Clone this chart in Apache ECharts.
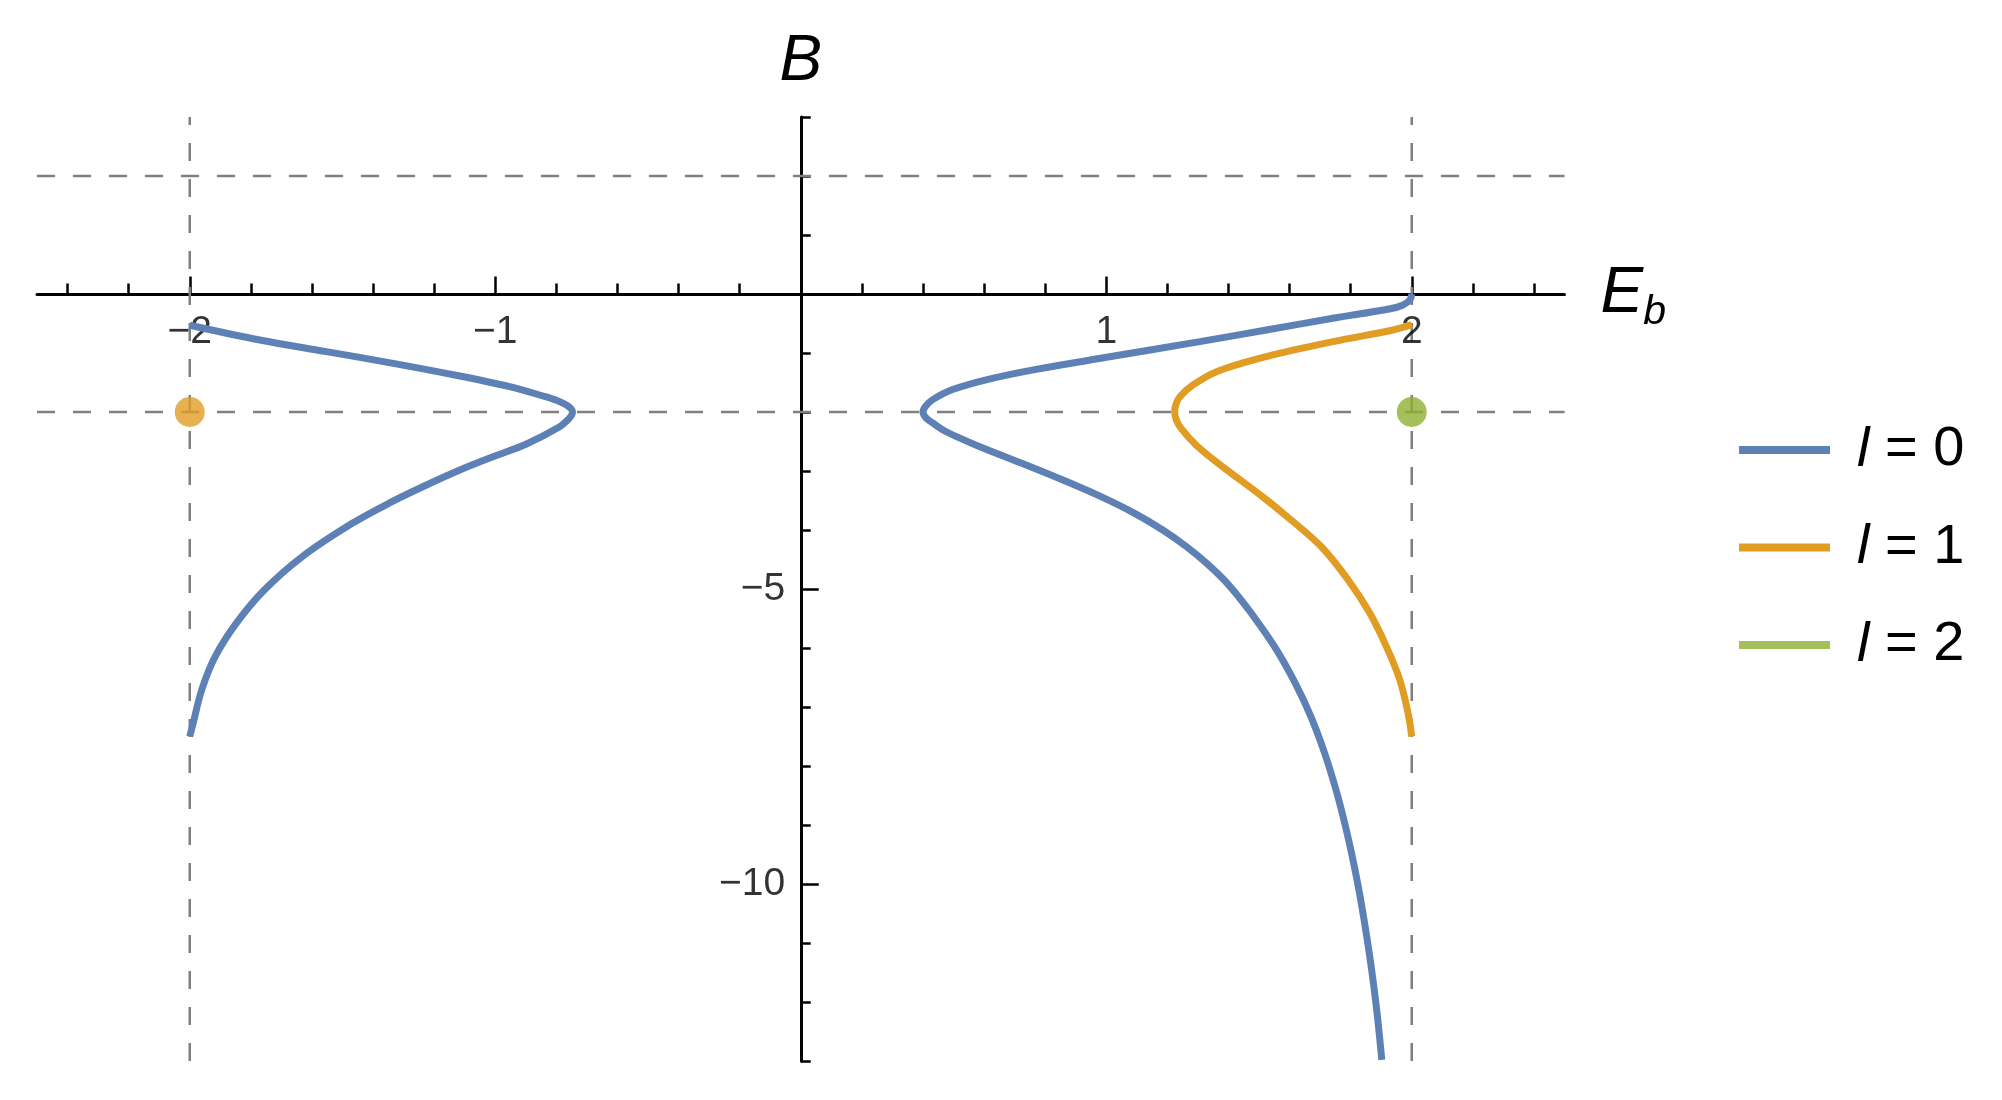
<!DOCTYPE html>
<html><head><meta charset="utf-8">
<script src="https://cdn.jsdelivr.net/npm/echarts@6/dist/echarts.min.js"></script>
<style>html,body{margin:0;padding:0;background:#fff}#c{width:2002px;height:1100px}</style>
</head><body><div id="c"></div><script>
// ---- data ----
const seriesNames = ['l = 0', 'l = 1', 'l = 2'];
const l0Left = [
  [-2.0, -0.53], [-1.771, -0.78], [-1.553, -0.977], [-1.334, -1.175], [-1.116, -1.39],
  [-0.953, -1.571], [-0.843, -1.729], [-0.80, -1.80], [-0.767, -1.881], [-0.751, -1.95],
  [-0.747, -2.0], [-0.751, -2.06], [-0.762, -2.13], [-0.789, -2.249], [-0.898, -2.542],
  [-1.007, -2.757], [-1.116, -2.983], [-1.225, -3.237], [-1.338, -3.52], [-1.468, -3.887],
  [-1.632, -4.452], [-1.756, -5.017], [-1.848, -5.582], [-1.917, -6.147], [-1.961, -6.712],
  [-1.989, -7.277], [-2.0, -7.5]
];
const l0Right = [
  [2.0, 0.0], [1.994, -0.1], [1.97, -0.19], [1.93, -0.25], [1.742, -0.412],
  [1.524, -0.61], [1.306, -0.808], [1.001, -1.073], [0.77, -1.277], [0.61, -1.45],
  [0.497, -1.62], [0.432, -1.79], [0.409, -1.9], [0.40, -2.0], [0.41, -2.1],
  [0.433, -2.19], [0.466, -2.305], [0.51, -2.418], [0.586, -2.588], [0.724, -2.87],
  [0.858, -3.153], [0.983, -3.435], [1.093, -3.718], [1.185, -4.0], [1.263, -4.283],
  [1.329, -4.565], [1.386, -4.847], [1.433, -5.13], [1.475, -5.412], [1.551, -5.977],
  [1.619, -6.599], [1.670, -7.164], [1.715, -7.785], [1.749, -8.35], [1.778, -8.915],
  [1.803, -9.48], [1.825, -10.045], [1.844, -10.61], [1.861, -11.175], [1.876, -11.74],
  [1.889, -12.305], [1.902, -12.98]
];
const l1Curve = [
  [2.0, -0.52], [1.939, -0.61], [1.742, -0.808], [1.524, -1.062], [1.361, -1.316],
  [1.284, -1.542], [1.241, -1.741], [1.228, -1.87], [1.224, -2.0], [1.229, -2.13],
  [1.245, -2.277], [1.294, -2.559], [1.366, -2.87], [1.439, -3.153], [1.51, -3.43],
  [1.579, -3.718], [1.704, -4.283], [1.792, -4.847], [1.863, -5.412], [1.917, -5.977],
  [1.961, -6.542], [1.988, -7.107], [2.0, -7.5]
];
const l1Point = [[-2, -2]];
const l2Point = [[2, -2]];
const refLinesE = [-2, 2];
const refLinesB = [2, -2];
const xRange = [-2.5, 2.5];
const yRange = [-13, 3];
const xMajorTicks = [-2, -1, 1, 2];
const xMinorTicks = [-2.4, -2.2, -1.8, -1.6, -1.4, -1.2, -0.8, -0.6, -0.4, -0.2,
  0.2, 0.4, 0.6, 0.8, 1.2, 1.4, 1.6, 1.8, 2.2, 2.4];
const yMajorTicks = [-5, -10];
const yMinorTicks = [3, 2, 1, -1, -2, -3, -4, -6, -7, -8, -9, -11, -12, -13];
const colors = ['#5E81B5', '#E19C24', '#8FB032'];

// ---- chart ----
const FONT = '"Liberation Sans", Arial, sans-serif';
const fmt = v => (v < 0 ? '\u2212' + Math.abs(v) : String(v));
const chart = echarts.init(document.getElementById('c'), null, { renderer: 'canvas' });

const dashStyle = { color: '#808080', width: 2.5, type: [18, 18] };
const refSeries = [];
refLinesE.forEach(e => refSeries.push({
  type: 'line', data: [[e, yRange[0]], [e, yRange[1]]], showSymbol: false, silent: true,
  lineStyle: dashStyle, z: 1, xAxisIndex: 0, yAxisIndex: 0
}));
refLinesB.forEach(b => refSeries.push({
  type: 'line', data: [[xRange[0], b], [xRange[1], b]], showSymbol: false, silent: true,
  lineStyle: dashStyle, z: 1, xAxisIndex: 0, yAxisIndex: 0
}));

// tick labels placed at the axis crossing through the axes' own scales
const labelSeries = [
  {
    type: 'scatter', silent: true, z: 2, symbolSize: 1, itemStyle: { color: 'rgba(0,0,0,0)' },
    data: xMajorTicks.map(v => [v, 0]),
    label: { show: true, position: 'bottom', distance: 18, formatter: p => fmt(p.value[0]),
      fontFamily: FONT, fontSize: 39, color: '#000' }
  },
  {
    type: 'scatter', silent: true, z: 2, symbolSize: 1, itemStyle: { color: 'rgba(0,0,0,0)' },
    data: yMajorTicks.map(v => [0, v]),
    label: { show: true, position: 'left', distance: 15, formatter: p => fmt(p.value[1]),
      fontFamily: FONT, fontSize: 39, color: '#000' }
  }
];

const curve = (name, data, color) => ({
  name, type: 'line', data, showSymbol: false, smooth: 0.35, z: 3,
  lineStyle: { color, width: 7 }, itemStyle: { color }, xAxisIndex: 0, yAxisIndex: 0
});
const dot = (name, data, color) => ({
  name, type: 'scatter', data, symbolSize: 30, z: 4,
  itemStyle: { color }, xAxisIndex: 0, yAxisIndex: 0
});

const tickStyle = { color: '#000', width: 2.5 };
chart.setOption({
  animation: false,
  backgroundColor: '#fff',
  grid: { left: 37, top: 117, width: 1527.5, height: 944, containLabel: false, outerBoundsMode: 'none' },
  legend: {
    orient: 'vertical', left: 1734, top: 417, itemWidth: 91, itemHeight: 8, itemGap: 41.5,
    data: seriesNames.map(n => ({ name: n, icon: 'rect' })),
    selectedMode: false,
    formatter: name => {
      const p = name.split(' = ');
      return '{i|' + p[0] + '}{t| = ' + p[1] + '}';
    },
    textStyle: {
      fontFamily: FONT, fontSize: 56, lineHeight: 56, color: '#000',
      rich: {
        i: { fontFamily: FONT, fontSize: 56, fontStyle: 'italic', color: '#000', padding: [0, 0, 0, 22] },
        t: { fontFamily: FONT, fontSize: 56, color: '#000' }
      }
    }
  },
  xAxis: [{
    type: 'value', min: xRange[0], max: xRange[1], position: 'bottom',
    axisLine: { onZero: true, onZeroAxisIndex: 0, lineStyle: { color: '#000', width: 3 } },
    axisTick: { customValues: xMajorTicks, inside: true, length: 17.5, lineStyle: tickStyle },
    axisLabel: { show: false },
    splitLine: { show: false },
    name: '{e|E}{s|b}', nameLocation: 'end', nameGap: 36,
    nameTextStyle: {
      rich: {
        e: { fontFamily: FONT, fontSize: 64, fontStyle: 'italic', color: '#000' },
        s: { fontFamily: FONT, fontSize: 41, fontStyle: 'italic', color: '#000', padding: [38, 0, 0, 0] }
      }
    }
  }, {
    type: 'value', min: xRange[0], max: xRange[1], position: 'bottom',
    axisLine: { show: false, onZero: true, onZeroAxisIndex: 0 },
    axisTick: { customValues: xMinorTicks, inside: true, length: 10.5, lineStyle: tickStyle },
    axisLabel: { show: false }, splitLine: { show: false }
  }],
  yAxis: [{
    type: 'value', min: yRange[0], max: yRange[1], position: 'left',
    axisLine: { onZero: true, onZeroAxisIndex: 0, lineStyle: { color: '#000', width: 3 } },
    axisTick: { customValues: yMajorTicks, inside: true, length: 18, lineStyle: tickStyle },
    axisLabel: { show: false },
    splitLine: { show: false },
    name: 'B', nameLocation: 'end', nameGap: 23,
    nameTextStyle: { fontFamily: FONT, fontSize: 64, fontStyle: 'italic', color: '#000', align: 'center' }
  }, {
    type: 'value', min: yRange[0], max: yRange[1], position: 'left',
    axisLine: { show: false, onZero: true, onZeroAxisIndex: 0 },
    axisTick: { customValues: yMinorTicks, inside: true, length: 10, lineStyle: tickStyle },
    axisLabel: { show: false }, splitLine: { show: false }
  }],
  series: refSeries.concat(labelSeries, [
    curve(seriesNames[0], l0Left, colors[0]),
    curve(seriesNames[0], l0Right, colors[0]),
    curve(seriesNames[1], l1Curve, colors[1]),
    dot(seriesNames[1], l1Point, colors[1]),
    dot(seriesNames[2], l2Point, colors[2])
  ])
});
</script></body></html>
